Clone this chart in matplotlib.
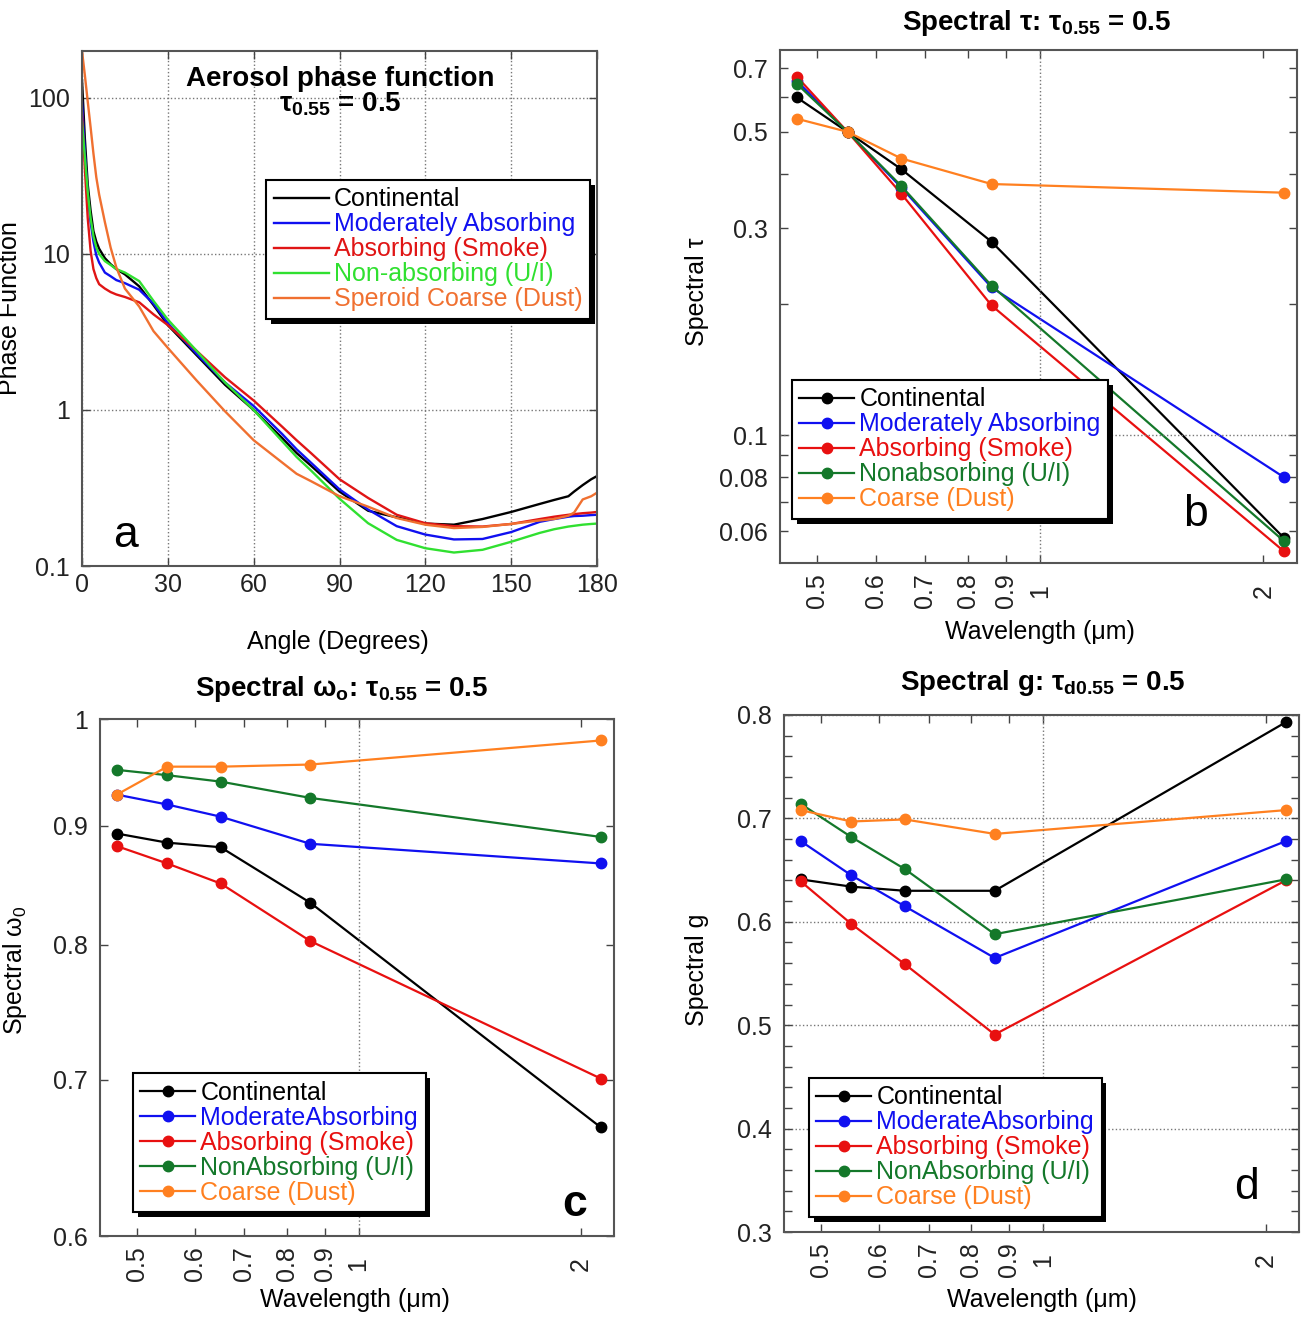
import numpy as np
import matplotlib
matplotlib.use("Agg")
import matplotlib.pyplot as plt
import matplotlib.patheffects as pe
from matplotlib.ticker import FixedLocator, FixedFormatter, NullLocator, MultipleLocator

plt.rcParams["font.family"] = ["Liberation Sans", "DejaVu Sans"]
plt.rcParams["mathtext.default"] = "regular"
plt.rcParams["legend.fancybox"] = False

# ---- panel a: phase function vs scattering angle ----
angle = [0, 1, 2, 3, 4, 5, 6, 8, 10, 12, 15, 20, 25, 30, 40, 50, 60, 70, 75, 80,
         90, 100, 110, 120, 130, 140, 150, 160, 165, 170, 172, 175, 178, 180]
pf_continental = [130, 55, 28, 19, 14, 12, 10.8, 9.4, 8.6, 8.0, 7.4, 6.2, 4.7, 3.5, 2.25, 1.45, 1.0, 0.66, 0.53, 0.44,
                  0.30, 0.226, 0.205, 0.187, 0.184, 0.2, 0.222, 0.25, 0.265, 0.28, 0.30, 0.33, 0.36, 0.377]
pf_moderate = [95, 45, 24, 16, 12, 9.8, 8.8, 7.6, 7.2, 6.8, 6.5, 5.9, 4.8, 3.6, 2.3, 1.5, 1.06, 0.7, 0.56, 0.46,
               0.31, 0.23, 0.18, 0.159, 0.148, 0.149, 0.165, 0.192, 0.2, 0.207, 0.209, 0.21, 0.212, 0.213]
pf_smoke = [80, 35, 17, 10.5, 8.0, 7.0, 6.4, 6.0, 5.7, 5.5, 5.3, 4.9, 4.1, 3.5, 2.4, 1.62, 1.15, 0.78, 0.64, 0.53,
            0.36, 0.273, 0.213, 0.188, 0.18, 0.179, 0.186, 0.2, 0.207, 0.213, 0.215, 0.218, 0.22, 0.222]
pf_nonabs = [70, 42, 25, 17, 13, 11, 10, 9.0, 8.5, 8.0, 7.6, 6.7, 5.0, 3.8, 2.4, 1.5, 1.0, 0.63, 0.5, 0.41,
             0.27, 0.188, 0.147, 0.13, 0.122, 0.127, 0.143, 0.163, 0.172, 0.179, 0.181, 0.184, 0.186, 0.187]
pf_dust = [200, 140, 95, 65, 44, 31, 24, 16, 11, 8.2, 6.0, 4.6, 3.2, 2.5, 1.55, 0.98, 0.64, 0.46, 0.39, 0.35,
           0.28, 0.24, 0.203, 0.184, 0.175, 0.178, 0.186, 0.196, 0.2, 0.21, 0.22, 0.267, 0.28, 0.295]
labels_a = ["Continental", "Moderately Absorbing", "Absorbing (Smoke)",
            "Non-absorbing (U/I)", "Speroid Coarse (Dust)"]

# ---- panels b-d: spectral properties ----
wavelength = [0.47, 0.55, 0.65, 0.86, 2.13]
tau_continental = [0.60, 0.50, 0.41, 0.279, 0.058]
tau_moderate = [0.655, 0.50, 0.372, 0.219, 0.080]
tau_smoke = [0.67, 0.50, 0.36, 0.199, 0.054]
tau_nonabs = [0.645, 0.50, 0.375, 0.221, 0.057]
tau_dust = [0.536, 0.50, 0.434, 0.379, 0.362]
labels_b = ["Continental", "Moderately Absorbing", "Absorbing (Smoke)",
            "Nonabsorbing (U/I)", "Coarse (Dust)"]

ssa_continental = [0.893, 0.885, 0.881, 0.834, 0.668]
ssa_moderate = [0.928, 0.919, 0.908, 0.884, 0.867]
ssa_smoke = [0.882, 0.867, 0.850, 0.803, 0.701]
ssa_nonabs = [0.951, 0.946, 0.940, 0.925, 0.890]
ssa_dust = [0.928, 0.954, 0.954, 0.956, 0.979]

g_continental = [0.641, 0.634, 0.630, 0.630, 0.793]
g_moderate = [0.678, 0.645, 0.615, 0.565, 0.678]
g_smoke = [0.639, 0.598, 0.559, 0.491, 0.640]
g_nonabs = [0.714, 0.682, 0.651, 0.588, 0.641]
g_dust = [0.708, 0.697, 0.699, 0.685, 0.708]
labels_cd = ["Continental", "ModerateAbsorbing", "Absorbing (Smoke)",
             "NonAbsorbing (U/I)", "Coarse (Dust)"]

wl_ticks = [0.5, 0.6, 0.7, 0.8, 0.9, 1, 2]
wl_ticklabels = ["0.5", "0.6", "0.7", "0.8", "0.9", "1", "2"]

colors_a = ["#000000", "#1010f0", "#e01515", "#30e030", "#f07030"]
colors_s = ["#000000", "#1010f0", "#e81010", "#14782a", "#ff8020"]

W, H = 1312, 1322
fig = plt.figure(figsize=(W / 100, H / 100), dpi=100)


def px_axes(l, t, r, b):
    return fig.add_axes([l / W, 1 - b / H, (r - l) / W, (b - t) / H])


def style(ax):
    ax.tick_params(which="both", direction="in", top=True, right=True, length=6,
                   width=1, color="#444", labelcolor="#222", labelsize=18, pad=9)
    for s in ax.spines.values():
        s.set_color("#555")
        s.set_linewidth(1.5)


def legend(ax, x, y, loc="upper left"):
    leg = ax.legend(loc=loc, bbox_to_anchor=(x, y), fontsize=18,
                    labelspacing=0.04, handlelength=2.2, handletextpad=0.2,
                    borderpad=0.3, borderaxespad=0, framealpha=1)
    frame = leg.get_frame()
    frame.set_edgecolor("black")
    frame.set_linewidth(1.5)
    # solid black drop shadow like the original figure
    frame.set_path_effects([pe.SimplePatchShadow(offset=(3.5, -3.5), shadow_rgbFace="black", alpha=1),
                            pe.Normal()])
    for txt, ln in zip(leg.get_texts(), leg.get_lines()):
        txt.set_color(ln.get_color())
    return leg


# panel a
ax = px_axes(82, 51, 597, 566)
style(ax)
for vals, c, lab in zip([pf_continental, pf_moderate, pf_smoke, pf_nonabs, pf_dust], colors_a, labels_a):
    ax.plot(angle, vals, color=c, lw=1.7, label=lab)
ax.set_yscale("log")
ax.set_xlim(0, 180)
ax.set_ylim(0.1, 200)
ax.set_xticks(np.arange(0, 181, 30))
ax.yaxis.set_major_locator(FixedLocator([0.1, 1, 10, 100]))
ax.yaxis.set_major_formatter(FixedFormatter(["0.1", "1", "10", "100"]))
ax.yaxis.set_minor_locator(NullLocator())
ax.tick_params(axis="x", pad=5)
ax.grid(True, ls=":", color="#777", lw=1)
ax.set_xlabel("Angle (Degrees)", fontsize=18)
ax.xaxis.set_label_coords(0.497, -0.124)
ax.set_ylabel("Phase Function", fontsize=18)
ax.yaxis.set_label_coords(-0.1165, 0.5)
ax.text(0.501, 0.932, "Aerosol phase function", transform=ax.transAxes, ha="center",
        va="baseline", fontsize=20, fontweight="bold")
ax.text(0.501, 0.882, r"$\tau_{0.55}$ = 0.5", transform=ax.transAxes, ha="center",
        va="baseline", fontsize=20, fontweight="bold")
ax.text(0.0835, 0.06, "a", transform=ax.transAxes, ha="center", va="center", fontsize=32)
legend(ax, 0.986, 0.75, loc="upper right")


def spectral_axes(ax, series, labels):
    style(ax)
    for vals, c, lab in zip(series, colors_s, labels):
        ax.plot(wavelength, vals, color=c, lw=1.6, marker="o", ms=7.5, label=lab)
    ax.set_xscale("log")
    ax.set_xlim(0.446, 2.22)
    ax.xaxis.set_major_locator(FixedLocator(wl_ticks))
    ax.xaxis.set_major_formatter(FixedFormatter(wl_ticklabels))
    ax.xaxis.set_minor_locator(NullLocator())
    ax.tick_params(axis="x", labelrotation=90, pad=20)
    for lab in ax.get_xticklabels():
        lab.set_va("center")
    ax.axvline(1, ls=":", color="#777", lw=1)
    ax.set_xlabel("Wavelength (μm)", fontsize=18)


# panel b
ax = px_axes(780, 50, 1297, 563)
spectral_axes(ax, [tau_continental, tau_moderate, tau_smoke, tau_nonabs, tau_dust], labels_b)
ax.set_yscale("log")
ax.set_ylim(0.0507, 0.772)
ax.yaxis.set_major_locator(FixedLocator([0.06, 0.07, 0.08, 0.09, 0.1, 0.2, 0.3, 0.4, 0.5, 0.6, 0.7]))
ax.yaxis.set_major_formatter(FixedFormatter(["0.06", "", "0.08", "", "0.1", "", "0.3", "", "0.5", "", "0.7"]))
ax.yaxis.set_minor_locator(NullLocator())
ax.axhline(0.1, ls=":", color="#777", lw=1)
ax.xaxis.set_label_coords(0.503, -0.111)
ax.set_ylabel("Spectral τ", fontsize=18)
ax.yaxis.set_label_coords(-0.137, 0.528)
ax.text(0.803, 0.0936, "b", transform=ax.transAxes, ha="center", va="center", fontsize=32)
legend(ax, 0.023, 0.357)
fig.text(1037 / W, 1 - 30 / H, r"Spectral $\tau$: $\tau_{0.55}$ = 0.5", ha="center",
         va="baseline", fontsize=20, fontweight="bold")

# panel c
ax = px_axes(100, 719, 614, 1236)
spectral_axes(ax, [ssa_continental, ssa_moderate, ssa_smoke, ssa_nonabs, ssa_dust], labels_cd)
ax.set_yscale("log")
ax.set_ylim(0.6, 1.0)
ax.yaxis.set_major_locator(FixedLocator([0.6, 0.7, 0.8, 0.9, 1.0]))
ax.yaxis.set_major_formatter(FixedFormatter(["0.6", "0.7", "0.8", "0.9", "1"]))
ax.yaxis.set_minor_locator(NullLocator())
ax.xaxis.set_label_coords(0.496, -0.10)
ax.set_ylabel(r"Spectral $\omega_0$", fontsize=18)
ax.yaxis.set_label_coords(-0.138, 0.514)
ax.text(0.924, 0.06, "c", transform=ax.transAxes, ha="center", va="center",
        fontsize=32, fontweight="bold")
legend(ax, 0.064, 0.315)
fig.text(342 / W, 1 - 696 / H, r"Spectral $\omega_o$: $\tau_{0.55}$ = 0.5", ha="center",
         va="baseline", fontsize=20, fontweight="bold")

# panel d
ax = px_axes(784, 715, 1299, 1232)
spectral_axes(ax, [g_continental, g_moderate, g_smoke, g_nonabs, g_dust], labels_cd)
ax.set_ylim(0.3, 0.8)
ax.yaxis.set_major_locator(MultipleLocator(0.1))
ax.yaxis.set_minor_locator(MultipleLocator(0.02))
ax.yaxis.set_major_formatter(FixedFormatter(["", "0.3", "0.4", "0.5", "0.6", "0.7", "0.8"]))
ax.grid(True, axis="y", ls=":", color="#777", lw=1)
ax.xaxis.set_label_coords(0.50, -0.108)
ax.set_ylabel("Spectral g", fontsize=18)
ax.yaxis.set_label_coords(-0.146, 0.507)
ax.text(0.899, 0.087, "d", transform=ax.transAxes, ha="center", va="center", fontsize=32)
legend(ax, 0.0485, 0.298)
fig.text(1043 / W, 1 - 690 / H, r"Spectral g: $\tau_{d0.55}$ = 0.5", ha="center",
         va="baseline", fontsize=20, fontweight="bold")

fig.savefig("out.png", dpi=100)
